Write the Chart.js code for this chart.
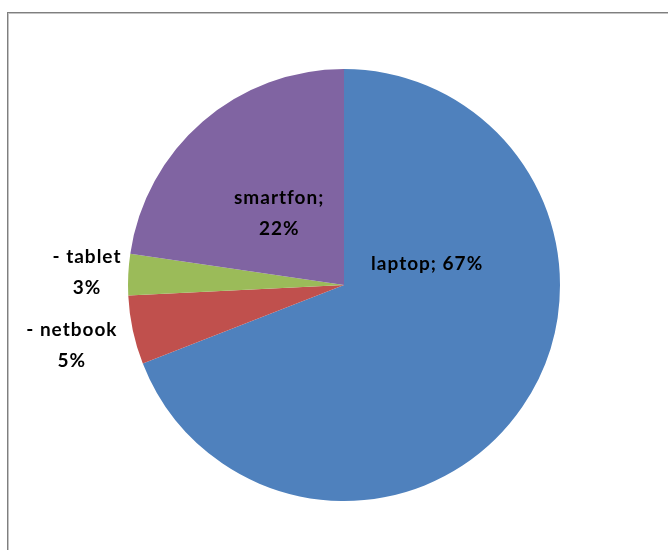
<!DOCTYPE html>
<html>
<head>
<meta charset="utf-8">
<script src="https://cdn.jsdelivr.net/npm/chart.js@4"></script>
<style>
  html, body { margin: 0; padding: 0; background: #fff; }
  #wrap { position: relative; width: 668px; height: 550px; }
  #frame {
    position: absolute; left: 7px; top: 12px; right: -2px; bottom: -2px;
    border-left: 1px solid #7f7f7f; border-top: 1px solid #7f7f7f;
    box-shadow: inset 1px 1px 0 #c4c4c4;
  }
  canvas { position: absolute; left: 0; top: 0; }
</style>
</head>
<body>
<div id="wrap">
  <div id="frame"></div>
  <canvas id="myChart" width="668" height="550"></canvas>
</div>
<script>
const categories = ['laptop', 'netbook', 'tablet', 'smartfon'];
const shares = [67, 5, 3, 22];
const colors = ['#4f81bd', '#c0504d', '#9bbb59', '#8064a2'];

// label text lines per slice, and where each sits relative to the pie centre (in radii)
const labelLines = [
    ['laptop; ' + shares[0] + '%'],
    ['- netbook', shares[1] + '%'],
    ['- tablet', shares[2] + '%'],
    ['smartfon;', shares[3] + '%']
];
const labelSpots = [[0.385, -0.10], [-1.26, 0.28], [-1.19, -0.06], [-0.30, -0.33]];

const pieLabels = {
    id: 'pieLabels',
    afterDatasetsDraw(chart) {
        const ctx = chart.ctx;
        const arcs = chart.getDatasetMeta(0).data;
        ctx.save();
        ctx.font = 'bold 19px Lato, "Open Sans", sans-serif';
        ctx.letterSpacing = '1px';
        ctx.fillStyle = '#000';
        ctx.textAlign = 'center';
        ctx.textBaseline = 'middle';
        arcs.forEach(function (arc, i) {
            const r = arc.outerRadius;
            const cx = arc.x + labelSpots[i][0] * r;
            const cy = arc.y + labelSpots[i][1] * r;
            const lines = labelLines[i];
            const lh = 31;
            lines.forEach(function (t, k) {
                ctx.fillText(t, cx, cy + (k - (lines.length - 1) / 2) * lh);
            });
        });
        ctx.restore();
    }
};

const ctx = document.getElementById('myChart').getContext('2d');
const myChart = new Chart(ctx, {
    type: 'pie',
    data: {
        labels: categories,
        datasets: [{
            data: shares,
            backgroundColor: colors,
            borderWidth: 0
        }]
    },
    options: {
        responsive: false,
        animation: false,
        layout: { padding: { left: 128, right: 108, top: 69, bottom: 49 } },
        plugins: {
            legend: { display: false },
            tooltip: { enabled: false }
        }
    },
    plugins: [pieLabels]
});
</script>
</body>
</html>
